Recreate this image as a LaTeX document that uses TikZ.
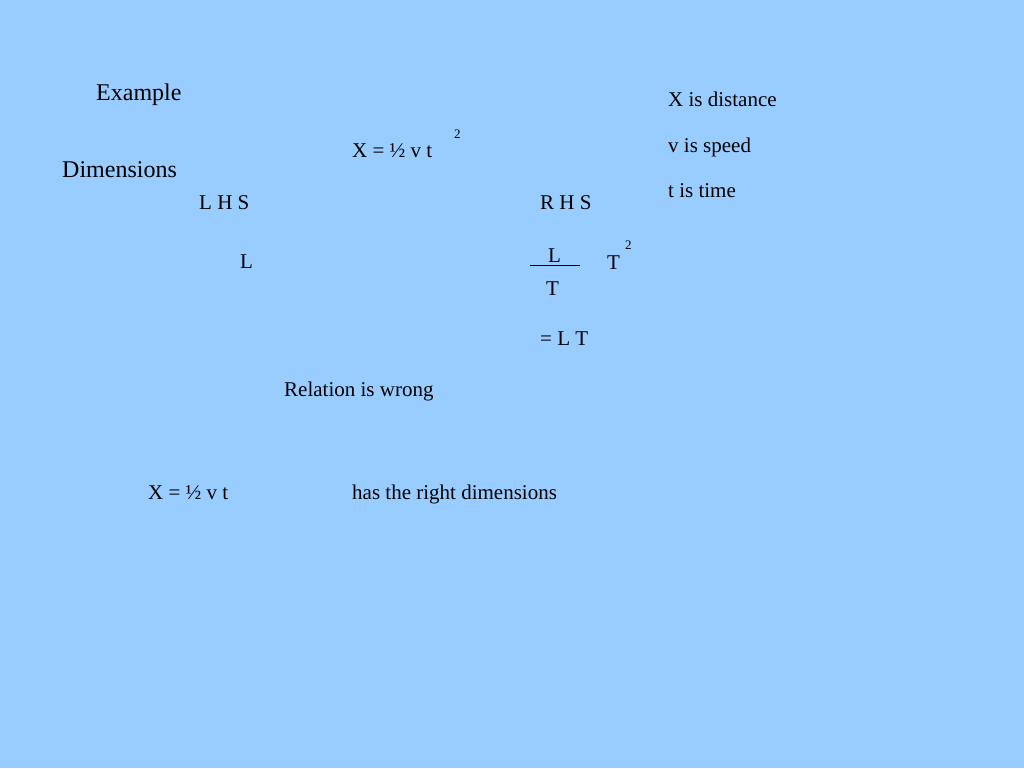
\documentclass[tikz,border=0pt]{standalone}
\usepackage{fontspec}
\setmainfont{Liberation Serif}
\begin{document}
\begin{tikzpicture}[x=1pt,y=-1pt,
 t/.style={anchor=base west,inner sep=0pt,font=\fontsize{21}{24}\selectfont},
 big/.style={anchor=base west,inner sep=0pt,font=\fontsize{24}{28}\selectfont},
 sup/.style={anchor=base west,inner sep=0pt,font=\fontsize{13}{15}\selectfont}]
\fill[fill={rgb,255:red,153;green,204;blue,255}] (0,0) rectangle (1024,768);
\useasboundingbox (0,0) rectangle (1024,768);
\node[big] (ex) at (96,100) {Example};
\node[big] (dim) at (62,177) {Dimensions};
\node[t] (d1) at (668,106) {X is distance};
\node[t] (d2) at (668,152) {v is speed};
\node[t] (d3) at (668,197) {t is time};
\node[t] (eq) at (352,157) {X = ½ v t};
\node[sup] (eq2) at (454,138) {2};
\node[t] (lhs) at (199,209) {L H S};
\node[t] (rhs) at (540,209) {R H S};
\node[t] (l1) at (240,268) {L};
\node[t] (fl) at (548,262) {L};
\draw (530,265) -- (580,265);
\node[t] (ft) at (546,295) {T};
\node[t] (t2) at (607,269) {T};
\node[sup] (t2s) at (625,249) {2};
\node[t] (lt) at (540,345) {= L T};
\node[t] (rw) at (284,396) {Relation is wrong};
\node[t] (eqb) at (148,499) {X = ½ v t};
\node[t] (hr) at (352,499) {has the right dimensions};
\end{tikzpicture}
\end{document}
